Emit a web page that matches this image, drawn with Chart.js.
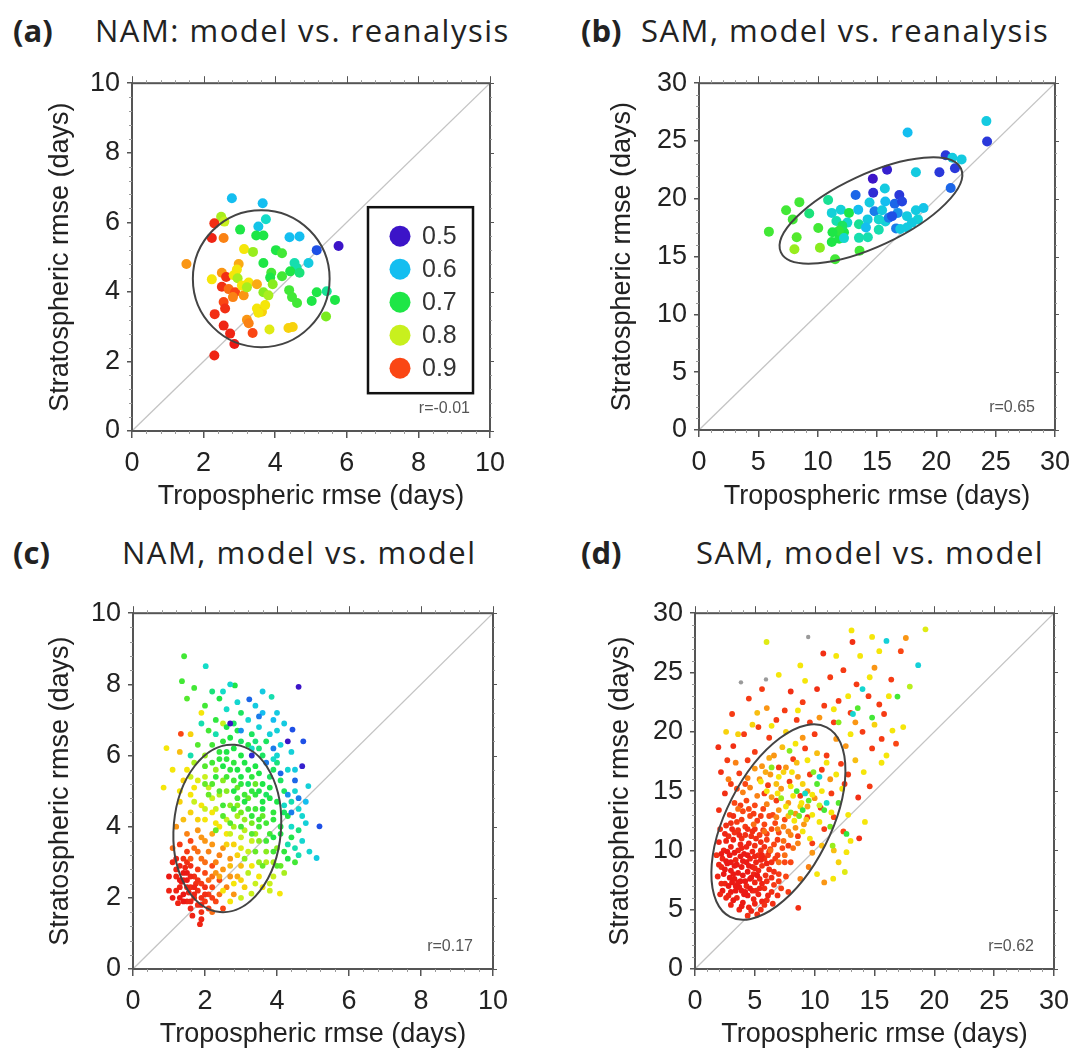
<!DOCTYPE html>
<html>
<head>
<meta charset="utf-8">
<script src="https://cdn.jsdelivr.net/npm/chart.js@4.4.1/dist/chart.umd.min.js"></script>
<style>
  html, body { margin: 0; padding: 0; background: #fff; overflow: hidden; }
  body { width: 1079px; height: 1053px; position: relative; }
  canvas { position: absolute; }
  .ptitle { position: absolute; font-family: "Open Sans", sans-serif; font-size: 31px; line-height: 31px; color: #222; white-space: nowrap; letter-spacing: 1.5px; }
  .ptitle.tag { font-weight: bold; letter-spacing: 0; }
</style>
</head>
<body>
<div class="ptitle tag" style="left:13px;top:15px">(a)</div>
<div class="ptitle" style="left:95px;top:15px">NAM: model vs. reanalysis</div>
<div class="ptitle tag" style="left:581px;top:15px">(b)</div>
<div class="ptitle" style="left:641px;top:15px">SAM, model vs. reanalysis</div>
<div class="ptitle tag" style="left:13px;top:537px">(c)</div>
<div class="ptitle" style="left:122px;top:537px">NAM, model vs. model</div>
<div class="ptitle tag" style="left:581px;top:537px">(d)</div>
<div class="ptitle" style="left:696px;top:537px">SAM, model vs. model</div>

<canvas id="pa" width="540" height="470" style="left:0px;top:60px"></canvas>
<canvas id="pb" width="519" height="470" style="left:560px;top:60px"></canvas>
<canvas id="pc" width="540" height="478" style="left:0px;top:590px"></canvas>
<canvas id="pd" width="519" height="478" style="left:560px;top:590px"></canvas>

<script>
// each point: [tropospheric rmse, stratospheric rmse, correlation]
const namReanPts = [
  [2.79,6.69,.6],[3.65,6.55,.6],[2.49,6.16,.78],[2.58,6.02,.8],[2.30,5.97,.92],[2.23,5.55,.93],[2.56,5.55,.87],
  [3.02,5.79,.7],[3.74,6.09,.65],[3.53,5.88,.61],[3.47,5.62,.7],[3.67,5.62,.7],[4.40,5.57,.6],[4.68,5.59,.6],
  [5.16,5.20,.55],[5.77,5.32,.5],[1.52,4.80,.86],[3.13,5.23,.82],[3.38,5.15,.77],[4.02,5.20,.7],[4.19,5.11,.72],
  [3.67,4.83,.7],[4.54,4.83,.66],[4.93,4.83,.62],[4.60,4.69,.66],[2.98,4.80,.85],[2.93,4.64,.82],[2.51,4.55,.86],
  [2.23,4.36,.82],[2.63,4.43,.92],[2.84,4.48,.82],[2.95,4.39,.78],[3.26,4.27,.82],[3.49,4.22,.85],[3.89,4.55,.72],
  [4.19,4.45,.72],[3.86,4.41,.7],[4.42,4.59,.7],[4.68,4.55,.68],[2.51,4.15,.92],[2.70,4.08,.88],[2.88,3.99,.9],
  [3.12,3.90,.86],[3.67,3.99,.76],[3.81,3.90,.78],[4.39,4.05,.72],[4.61,3.68,.72],[4.47,3.85,.72],[2.82,3.85,.87],
  [2.56,3.71,.9],[2.60,3.52,.92],[2.31,3.36,.92],[3.49,3.52,.82],[3.63,3.43,.83],[3.53,3.40,.82],[3.72,3.62,.82],
  [5.02,3.74,.7],[5.16,3.99,.7],[5.44,4.02,.67],[5.67,3.77,.7],[5.42,3.29,.75],[3.21,3.20,.86],[3.26,3.10,.87],
  [2.56,3.03,.93],[2.74,2.80,.93],[2.86,2.50,.94],[3.37,2.82,.9],[3.84,2.92,.81],[4.37,2.96,.83],[4.49,2.99,.83],
  [2.30,2.17,.93],[3.07,4.18,.82],[3.21,4.13,.78],[3.93,4.22,.76]
];

const samReanPts = [
  [5.89,17.16,.72],[7.34,19.01,.72],[8.46,19.71,.72],[7.90,18.22,.72],[8.23,16.68,.73],[8.04,15.64,.77],
  [9.29,18.73,.68],[10.19,15.76,.76],[10.05,17.47,.72],[10.88,19.90,.67],[11.19,18.78,.63],[11.95,19.06,.63],
  [11.58,18.08,.66],[11.19,16.26,.7],[11.81,16.54,.7],[12.22,17.10,.7],[12.64,18.78,.7],[12.50,17.94,.64],
  [11.47,14.77,.72],[13.20,20.33,.56],[13.42,19.06,.6],[13.48,17.80,.67],[13.48,16.62,.66],[14.23,16.68,.66],
  [13.53,15.50,.72],[14.65,21.73,.5],[14.68,20.52,.52],[15.85,22.51,.51],[15.66,20.89,.62],[14.79,18.92,.57],
  [14.37,19.68,.62],[15.43,19.01,.62],[15.71,18.03,.63],[15.15,17.33,.66],[16.49,19.57,.56],[16.88,20.33,.53],
  [17.11,19.76,.54],[16.75,18.78,.58],[16.61,17.44,.57],[17.53,18.50,.62],[18.28,19.01,.62],[18.92,19.20,.61],
  [18.45,18.22,.63],[17.53,17.52,.62],[17.58,25.74,.6],[18.28,22.29,.62],[20.26,22.29,.53],[20.79,23.77,.53],
  [21.35,23.55,.62],[22.13,23.41,.62],[21.57,22.65,.53],[21.21,20.94,.56],[24.22,26.72,.62],[24.28,24.95,.53],
  [15.99,18.36,.57],[14.21,18.22,.62],[15.15,18.22,.64],[14.07,17.52,.6],[12.08,17.66,.69],[11.8,17.24,.71],
  [12.22,16.6,.64],[16.27,18.5,.55],[16.96,17.38,.62],[17.95,17.94,.62],[11.25,17.1,.7],[15.7,19.76,.6]
];

const namModelPts = [
  // red
  [1.3,2.9,.93],[1.4,2.7,.94],[1.2,2.6,.93],[1.5,2.5,.94],[1.3,2.3,.93],[1.6,2.3,.92],[1.4,2.1,.94],[1.2,2.2,.93],
  [1.7,2.0,.92],[1.5,1.9,.93],[1.8,1.8,.92],[1.6,1.7,.93],[1.9,1.6,.92],[2.0,1.9,.91],[1.8,2.2,.92],[2.1,2.1,.91],
  [1.7,2.6,.92],[1.9,2.4,.91],[2.2,2.3,.9],[2.0,2.7,.9],[1.6,2.9,.92],[1.8,2.8,.91],[1.4,3.1,.92],[1.2,3.1,.93],
  [1.5,3.3,.91],[2.3,1.9,.9],[2.1,1.7,.91],[1.9,1.4,.93],[1.86,1.26,.93],[1.1,2.0,.94],[1.0,2.2,.93],[1.35,2.45,.94],
  [1.55,2.15,.93],[1.75,2.4,.92],[1.45,2.85,.93],[2.4,2.5,.9],[2.2,2.9,.9],[1.3,3.5,.91],[1.6,3.6,.9],[1.25,1.85,.93],
  [2.5,1.7,.9],[1.65,1.5,.93],[1.5,2.7,.94],[1.7,2.3,.93],[2.0,2.3,.92],[1.4,2.5,.94],[1.9,2.0,.92],[1.6,1.9,.93],
  [1.3,2.5,.94],[1.5,2.3,.93],[1.7,2.1,.93],[1.4,1.9,.94],[1.6,2.6,.93],[1.8,2.5,.92],[2.0,2.1,.92],[1.2,2.8,.93],
  [1.5,3.0,.92],[1.9,1.8,.93],[2.2,2.0,.91],[1.3,2.0,.94],[1.0,2.6,.94],[1.1,3.0,.93],
  // orange
  [1.5,3.8,.87],[1.7,3.4,.88],[1.9,3.1,.88],[2.1,3.3,.87],[2.3,3.0,.87],[2.5,2.8,.86],[2.6,2.3,.87],[2.8,2.1,.86],
  [2.4,2.1,.88],[2.0,3.6,.86],[1.8,3.9,.86],[1.4,4.2,.84],[1.6,4.4,.83],[2.2,3.8,.85],[2.5,3.4,.86],[2.7,3.1,.86],
  [2.9,2.6,.85],[3.0,2.9,.84],[2.3,4.1,.82],[1.9,4.6,.82],[2.6,3.8,.82],[1.2,4.0,.86],[1.3,4.7,.83],[2.1,2.5,.88],
  [2.7,2.6,.86],[1.7,5.1,.82],[2.0,5.4,.8],[1.5,5.6,.82],[1.3,6.1,.84],[1.33,6.61,.9],[2.2,1.6,.88],[3.1,2.3,.83],
  [2.8,3.5,.83],[1.1,3.4,.88],[1.8,3.3,.88],[2.0,3.0,.88],[2.4,3.2,.87],[1.6,3.1,.89],[2.2,3.5,.86],[1.9,3.7,.86],
  [2.2,2.6,.88],[2.4,2.6,.85],[2.7,2.9,.84],[2.9,3.2,.83],[2.3,2.7,.86],[1.8,4.2,.83],
  // yellow
  [2.0,4.2,.82],[2.3,4.5,.8],[2.6,4.2,.8],[2.8,4.0,.78],[3.0,3.7,.8],[3.2,3.3,.8],[3.3,2.9,.82],[3.5,2.6,.82],
  [3.29,2.12,.8],[4.08,2.12,.82],[3.6,2.3,.82],[2.9,4.6,.76],[2.4,4.9,.78],[2.1,5.1,.8],[1.8,5.3,.81],[2.6,5.0,.76],
  [3.4,3.8,.77],[3.7,3.0,.79],[3.1,4.2,.77],[1.6,4.9,.82],[0.93,6.21,.82],[0.85,5.1,.82],[1.1,5.6,.82],[1.6,6.6,.83],
  [1.9,7.2,.82],[2.5,6.9,.8],[3.9,2.6,.8],[2.2,4.8,.8],[3.0,2.5,.83],[3.8,2.4,.8],[1.4,5.3,.83],
  [2.4,4.0,.82],[2.7,3.8,.8],[3.0,3.4,.81],[2.6,3.5,.83],[3.3,3.6,.8],[2.2,4.4,.82],[2.9,4.3,.78],[3.1,3.9,.79],
  [2.5,2.2,.82],[2.8,2.4,.82],[3.0,2.0,.8],[2.7,1.9,.82],[3.8,2.2,.8],[3.4,2.4,.8],[3.2,2.7,.79],
  [1.7,4.7,.8],[2.0,4.5,.8],[1.6,5.4,.8],[1.3,5.0,.82],
  // yellow-green
  [2.7,4.6,.76],[3.0,4.4,.75],[3.3,4.1,.75],[3.5,3.6,.76],[3.7,3.3,.76],[3.9,3.0,.78],[2.5,5.3,.76],[2.9,5.1,.74],
  [3.2,4.8,.74],[3.6,4.3,.74],[4.0,3.4,.76],[2.3,5.6,.77],[4.2,2.7,.78],[1.7,5.8,.78],[2.0,6.0,.77],[3.4,5.2,.74],
  [3.5,3.0,.77],[4.1,2.9,.74],
  // green
  [2.4,5.9,.71],[2.7,5.6,.71],[3.0,5.4,.7],[3.3,5.0,.71],[3.6,4.7,.7],[3.9,4.4,.71],[4.1,4.0,.7],[3.8,3.8,.72],
  [3.4,4.5,.72],[3.1,5.8,.7],[2.8,6.2,.7],[2.5,6.4,.71],[3.5,5.5,.7],[3.8,5.1,.7],[4.0,4.7,.7],[2.2,6.3,.72],
  [2.0,5.7,.73],[3.2,6.3,.7],[3.6,6.0,.69],[2.9,6.7,.7],[2.6,6.8,.7],[2.3,7.0,.71],[3.0,7.2,.69],[1.8,6.3,.73],
  [2.1,6.7,.72],[4.3,4.3,.7],[4.2,5.0,.69],[3.7,4.1,.72],[3.1,4.9,.72],[2.8,5.3,.72],[2.6,5.9,.71],[3.4,5.7,.7],
  [3.3,6.6,.69],[2.0,7.4,.72],[1.42,8.79,.72],[1.36,8.09,.72],[2.83,7.97,.7],[1.5,7.6,.73],[1.7,7.9,.72],[2.4,7.6,.7],
  [4.4,3.7,.7],[4.2,3.3,.71],[4.5,3.0,.72],[3.9,5.6,.69],[4.1,5.3,.69],[2.2,5.2,.73],[3.5,4.2,.72],[3.0,6.0,.7],
  [2.7,6.5,.7],[3.7,6.4,.69],[2.9,4.8,.72],[3.2,4.5,.72],[3.4,4.9,.71],[2.6,5.4,.72],[3.0,5.2,.71],[3.6,5.2,.7],
  [2.4,5.0,.73],[3.8,4.8,.7],[3.3,5.4,.71],[2.8,5.8,.71],
  [2.3,3.9,.74],[2.5,4.3,.73],[2.8,4.5,.72],[3.1,4.7,.7],[3.3,4.3,.71],[3.6,4.5,.7],[3.9,4.2,.71],[4.1,3.8,.7],
  [3.7,3.6,.72],[3.4,3.3,.74],[3.1,3.1,.76],[3.6,2.9,.74],[3.9,3.3,.72],[4.0,2.9,.73],[2.5,5.7,.7],[2.8,5.0,.7],
  [3.2,5.2,.69],[3.5,5.0,.7],[3.8,5.4,.69],[4.0,5.8,.68],[2.3,5.4,.71],[2.6,6.1,.7],[2.9,5.6,.7],[3.2,5.6,.7],
  [3.5,6.2,.68],[3.0,6.4,.69],[2.4,6.1,.71],[2.2,5.8,.72],[2.7,4.1,.73],[3.0,4.0,.72],[3.3,3.8,.73],[3.5,4.0,.72],
  [2.5,4.6,.72],[2.1,4.9,.74],[2.0,5.2,.74],[3.7,4.9,.69],[4.2,4.4,.69],[3.9,3.7,.7],[3.4,6.4,.68],[2.8,6.9,.69],
  [4.3,3.1,.7],[4.6,3.9,.68],[2.2,7.8,.68],
  // teal / cyan
  [2.02,8.51,.65],[2.6,7.3,.65],[2.9,7.5,.64],[3.2,7.0,.64],[3.5,6.8,.63],[3.8,6.6,.63],[4.1,6.3,.63],[3.4,7.4,.62],
  [3.85,7.65,.66],[4.0,7.2,.62],[2.3,6.6,.66],[3.9,5.9,.65],[4.3,5.6,.64],[4.5,5.0,.64],[4.87,5.14,.63],[4.6,4.5,.64],
  [4.4,4.0,.65],[4.7,3.6,.64],[4.9,3.3,.64],[5.10,3.12,.62],[4.6,3.2,.66],[4.8,4.1,.63],[4.3,3.5,.66],[3.6,7.8,.62],
  [2.7,8.0,.64],[1.9,6.9,.66],[4.2,6.9,.62],[3.3,6.2,.65],[4.0,6.0,.64],[2.5,7.8,.65],[4.4,6.1,.63],[4.5,5.6,.62],
  [1.6,6.0,.66],[4.2,4.6,.65],[4.5,3.4,.66],[4.7,4.3,.64],[4.4,4.7,.66],[4.8,4.7,.6],[4.0,6.7,.63],[3.6,7.2,.6],
  [3.9,7.0,.6],
  // blue / purple
  [3.23,7.58,.56],[3.5,7.1,.57],[3.0,6.7,.58],[3.7,5.8,.57],[4.1,5.5,.56],[4.43,6.73,.55],[4.73,6.40,.55],
  [4.5,5.3,.56],[4.6,4.8,.57],[5.18,4.01,.55],[4.3,4.9,.58],[3.9,6.2,.57],[4.4,4.4,.57],
  [2.7,6.9,.5],[4.6,7.93,.5],[4.3,6.4,.5],[4.7,5.7,.51],[3.3,6.0,.52]
];

const samModelPts = [
  // red core
  [2.5,7.2,.93],[3.0,6.5,.94],[3.5,6.0,.93],[4.0,5.6,.94],[4.5,5.2,.93],[5.0,5.5,.93],[5.5,5.0,.92],[6.0,5.8,.92],
  [3.2,8.0,.94],[3.8,7.4,.94],[4.3,7.0,.93],[4.8,6.6,.93],[5.3,6.3,.93],[5.8,6.8,.92],[6.4,6.5,.92],[2.2,8.6,.93],
  [2.7,8.9,.94],[3.4,9.2,.93],[3.9,8.6,.94],[4.4,8.2,.94],[4.9,8.0,.93],[5.4,7.6,.93],[6.0,7.4,.92],[6.6,7.1,.91],
  [2.4,10.0,.93],[3.0,10.3,.93],[3.6,10.0,.93],[4.1,9.7,.94],[4.6,9.3,.93],[5.1,9.0,.93],[5.6,8.7,.92],[6.2,8.4,.92],
  [7.0,8.0,.91],[2.8,11.2,.92],[3.3,11.5,.92],[3.9,11.0,.92],[4.5,10.6,.93],[5.0,10.4,.92],[5.5,10.0,.92],[6.1,9.6,.91],
  [6.7,9.3,.91],[2.1,11.8,.92],[3.5,12.4,.91],[4.2,12.0,.91],[4.8,11.6,.92],[5.4,11.3,.91],[6.0,10.9,.91],[6.6,10.5,.9],
  [7.3,10.2,.9],[2.9,13.0,.91],[4.0,13.3,.9],[4.6,12.9,.9],[5.2,12.5,.91],[5.8,12.2,.9],[6.4,11.8,.9],[7.0,11.5,.9],
  [3.3,14.0,.9],[4.3,14.2,.9],[5.0,13.8,.9],[5.7,13.5,.9],[6.5,13.0,.9],[7.5,12.6,.9],[2.3,9.3,.93],[1.9,7.8,.93],
  [2.0,10.7,.93],[3.7,5.0,.93],[4.4,4.5,.92],[5.2,4.6,.92],[6.5,5.5,.92],[7.2,6.8,.91],[7.6,7.8,.9],[8.0,9.0,.9],
  [8.63,5.16,.92],[2.6,6.0,.93],[3.1,7.3,.94],[4.1,6.3,.94],[5.6,5.7,.93],[4.7,7.7,.94],[3.6,8.1,.94],[2.6,12.1,.92],
  [2.9,7.7,.94],[3.4,7.0,.94],[3.9,6.6,.94],[4.4,6.2,.94],[4.9,5.9,.93],[5.4,6.8,.93],[5.9,7.9,.92],[6.4,7.7,.92],
  [2.4,8.0,.94],[2.9,9.6,.94],[3.3,8.7,.94],[3.8,9.5,.94],[4.3,9.0,.94],[4.8,8.6,.93],[5.3,8.3,.93],[5.8,9.3,.92],
  [6.4,9.0,.92],[2.6,10.8,.93],[3.2,10.9,.93],[3.8,10.5,.93],[4.3,10.3,.93],[4.8,9.9,.93],[5.3,9.6,.92],[5.8,10.3,.92],
  [6.3,10.1,.91],[3.6,11.7,.92],[4.2,11.3,.92],[5.1,11.0,.92],[5.7,11.7,.91],[4.5,13.5,.9],[3.0,12.3,.92],[3.4,6.6,.94],
  [4.0,7.9,.94],[5.0,7.3,.93],[6.9,9.6,.91],[2.2,7.2,.93],[4.7,11.2,.92],[3.9,12.6,.91],[2.6,9.1,.94],[6.2,12.9,.9],
  [2.3,6.6,.94],[2.8,7.0,.94],[3.3,7.6,.94],[3.7,6.9,.94],[4.2,7.4,.94],[4.6,6.8,.94],[5.1,6.6,.93],[5.6,7.2,.93],
  [6.1,6.2,.93],[2.5,8.4,.94],[3.0,8.3,.94],[3.5,8.8,.94],[4.0,9.1,.94],[4.5,8.7,.94],[5.0,8.5,.93],[5.5,9.2,.93],
  [6.0,8.9,.93],[6.6,8.2,.92],[2.2,9.7,.94],[2.7,9.9,.94],[3.3,9.8,.94],[3.9,10.2,.93],[4.4,9.6,.94],[5.0,9.5,.93],
  [5.6,9.6,.93],[6.2,9.9,.92],[2.5,11.4,.93],[3.1,11.8,.93],[3.7,11.3,.93],[4.4,11.8,.92],[5.0,11.8,.92],[5.5,10.7,.92],
  [6.0,11.4,.91],[6.9,10.9,.91],[3.2,12.9,.92],[3.8,13.8,.91],[4.9,13.1,.91],[5.5,12.9,.91],[3.9,5.3,.94],[4.7,4.9,.93],
  [5.8,5.4,.92],[3.2,5.8,.94],[2.8,6.2,.93],[7.0,7.4,.91],[7.5,9.0,.9],[4.2,6.5,.95],[3.6,7.3,.95],[4.6,7.6,.95],
  [3.0,9.0,.95],[5.2,7.9,.94],[3.0,5.4,.93],[2.0,8.8,.93],[1.8,9.6,.92],[2.1,6.3,.93],[6.9,6.2,.92],[7.8,6.5,.91],
  [6.7,12.3,.9],
  // red, scattered
  [1.95,18.7,.92],[2.17,16.6,.92],[2.5,14.8,.92],[2.0,13.4,.92],[3.0,15.6,.91],[3.7,16.5,.91],[4.4,17.6,.91],
  [5.0,18.3,.91],[3.2,18.8,.92],[4.1,19.8,.91],[5.3,20.4,.91],[6.2,19.5,.91],[6.8,21.0,.91],[7.5,21.8,.91],
  [8.5,21.0,.91],[9.0,22.5,.91],[8.0,23.4,.92],[10.2,23.6,.92],[10.72,26.6,.92],[13.16,27.57,.92],[11.3,24.6,.91],
  [12.4,25.2,.91],[13.5,24.0,.91],[14.5,23.0,.91],[15.4,22.3,.91],[13.0,21.6,.91],[11.6,20.8,.91],[10.0,19.8,.91],
  [9.2,18.6,.91],[11.0,18.0,.91],[12.2,17.3,.91],[13.64,14.46,.92],[13.72,11.02,.92],[12.5,15.6,.91],[11.4,14.8,.91],
  [10.5,13.6,.91],[9.4,12.8,.91],[8.8,14.6,.91],[7.9,15.8,.91],[7.0,17.0,.91],[6.1,15.5,.91],[8.2,17.7,.91],
  [9.6,16.4,.91],[10.6,16.8,.91],[14.8,18.6,.91],[15.8,21.5,.91],[16.4,24.4,.91],[12.0,22.6,.91],[8.6,11.2,.91],
  [9.8,10.6,.91],[10.8,11.8,.91],[7.8,10.4,.91],[5.8,14.8,.91],[6.8,14.2,.91],[14.0,20.0,.91],
  [3.5,15.2,.9],[4.2,15.6,.9],[2.7,17.6,.91],[3.1,21.5,.91],[4.5,22.8,.91],[5.6,23.6,.91],[9.6,20.8,.91],
  [10.8,22.2,.91],[12.8,16.4,.91],[11.6,12.8,.9],[12.4,11.6,.9],[14.6,15.4,.91],[15.6,19.4,.91],[16.8,19.0,.9],
  [17.2,26.8,.9],
  // orange
  [5.2,14.6,.87],[6.0,13.9,.87],[6.8,12.8,.87],[7.4,12.0,.87],[8.0,11.3,.87],[8.6,10.6,.87],[4.6,15.3,.87],
  [5.4,16.0,.86],[6.3,16.4,.86],[7.2,15.2,.86],[7.8,14.0,.86],[8.4,13.1,.86],[9.1,12.2,.86],[4.0,14.9,.87],
  [3.6,13.5,.88],[5.6,17.1,.86],[6.6,18.0,.86],[7.6,17.0,.86],[8.6,16.2,.86],[9.4,15.0,.86],[10.0,14.4,.86],
  [9.0,19.5,.86],[10.4,21.2,.86],[11.8,19.4,.86],[12.6,18.8,.86],[13.4,20.8,.86],[7.0,9.0,.88],[6.3,10.0,.88],
  [7.5,9.6,.88],[9.5,8.6,.87],[8.8,7.6,.87],[3.4,17.4,.87],[2.8,16.0,.87],[11.3,16.0,.86],[10.8,7.3,.86],
  [9.8,9.8,.86],[17.62,27.91,.86],[15.0,25.4,.86],[6.0,22.0,.86],[5.8,11.6,.88],[4.9,12.2,.88],
  [6.4,14.5,.86],[7.0,13.4,.86],[7.8,12.9,.84],[8.8,13.7,.83],[9.3,12.6,.84],[5.9,16.6,.85],[6.8,15.6,.84],
  [7.4,16.6,.83],[5.0,16.9,.86],[4.4,16.1,.87],[6.2,17.8,.85],[7.3,18.7,.84],[8.5,17.4,.84],[6.9,11.8,.87],
  [7.8,11.6,.87],[8.4,11.9,.86],[9.4,13.7,.85],[7.4,10.8,.88],[8.2,10.2,.88],[10.2,18.2,.84],
  [11.6,10.0,.84],[10.6,10.4,.84],[13.4,17.6,.84],[5.2,21.6,.84],
  // yellow
  [6.0,15.0,.82],[6.9,14.8,.82],[7.6,13.7,.82],[8.3,12.5,.82],[9.0,11.6,.82],[9.6,11.0,.82],[5.5,15.8,.82],
  [7.0,16.2,.82],[8.0,15.4,.82],[8.9,14.0,.82],[9.8,13.0,.82],[10.4,12.4,.82],[10.6,15.0,.82],[11.4,13.2,.82],
  [11.0,17.4,.82],[9.4,17.6,.82],[8.4,19.0,.82],[12.66,9.85,.82],[11.55,7.62,.82],[12.52,8.18,.81],[10.2,8.0,.82],
  [16.5,20.1,.82],[15.59,17.39,.82],[17.95,23.81,.79],[13.08,28.55,.82],[5.98,27.57,.81],[13.8,26.4,.82],
  [12.8,23.0,.82],[14.6,24.6,.82],[4.8,20.6,.83],[3.6,19.8,.83],[7.0,24.8,.82],[9.2,24.3,.82],[16.2,23.0,.82],
  [2.6,20.0,.83],[8.6,21.8,.82],[6.4,20.5,.82],[11.6,21.9,.82],[14.1,16.6,.82],[12.8,13.0,.82],[19.26,28.64,.81],
  [15.4,26.8,.82],[13.0,19.8,.82],[8.2,14.6,.82],[8.1,16.6,.82],[9.0,15.6,.83],[9.8,14.7,.82],[10.4,13.8,.8],
  [11.8,16.4,.82],[12.3,15.2,.82],[13.0,10.8,.82],[12.0,9.0,.83],[14.2,12.4,.82],[15.0,20.6,.83],[16.0,18.0,.82],
  [17.4,20.4,.82],[7.6,20.0,.83],[8.8,25.6,.82],[11.8,26.4,.82],[14.8,28.0,.82],
  // yellow-green / green
  [7.2,14.4,.77],[8.0,13.2,.76],[8.7,12.9,.75],[9.5,14.2,.74],[10.2,15.6,.73],[9.9,16.6,.76],[11.3,12.0,.75],
  [12.0,14.0,.73],[10.8,13.4,.72],[7.9,18.4,.76],[12.66,11.39,.71],[16.92,22.97,.72],[13.6,22.0,.73],
  [14.8,21.2,.72],[12.0,20.8,.76],[8.5,15.0,.72],[9.0,13.4,.71],[6.4,17.0,.76],[11.5,10.4,.77],
  // cyan
  [16.0,27.66,.63],[18.65,25.62,.63],[10.4,16.2,.64],[13.2,21.5,.64],[11.0,14.0,.65],[14.0,23.6,.64],[9.2,14.8,.65]
];
// uncoloured stray models (grey), including two plotted just above the frame
const samModelGrey = [[9.46,27.99],[3.84,24.17],[5.93,24.42],[16.6,31.8],[18.2,32.0]];

// fitted ellipses: [centre x, centre y, semi-axis 1, semi-axis 2, tilt in degrees]
const namReanEllipse  = [3.61, 4.38, 1.91, 1.97, 0];
const samReanEllipse  = [14.49, 18.99, 8.37, 3.12, 25];
const namModelEllipse = [2.62, 3.95, 1.49, 2.36, -5];
const samModelEllipse = [6.97, 12.39, 8.89, 4.40, 63];

const rValues = ['-0.01', '0.65', '0.17', '0.62'];
const legendValues = [0.5, 0.6, 0.7, 0.8, 0.9];
const namRange = [0, 10];
const samRange = [0, 30];

// jet-like colour scale for the correlation
const corrStops = [0.50, 0.55, 0.60, 0.65, 0.70, 0.75, 0.80, 0.82, 0.85, 0.88, 0.90, 0.94];
const corrRGB = [[60,20,200],[30,80,230],[20,190,240],[20,220,200],[30,230,70],[120,235,30],
                 [200,240,30],[245,230,10],[250,170,20],[250,110,20],[250,70,20],[235,25,20]];

function corrColor(v) {
  if (v <= corrStops[0]) return 'rgb(' + corrRGB[0].join(',') + ')';
  for (let i = 0; i < corrStops.length - 1; i++) {
    if (v <= corrStops[i + 1]) {
      const t = (v - corrStops[i]) / (corrStops[i + 1] - corrStops[i]);
      const c = corrRGB[i].map((a, k) => Math.round(a + (corrRGB[i + 1][k] - a) * t));
      return 'rgb(' + c.join(',') + ')';
    }
  }
  return 'rgb(' + corrRGB[corrRGB.length - 1].join(',') + ')';
}

const FONT = '"Liberation Sans", Arial, sans-serif';

// box, minor ticks, fitted ellipse, r value and (panel a) the colour key
const framePlugin = {
  id: 'frame',
  afterDatasetsDraw(chart, args, o) {
    const { ctx, chartArea: a } = chart;
    const x = chart.scales.x, y = chart.scales.y;
    ctx.save();

    // ellipse
    const [cx, cy, r1, r2, tilt] = o.ellipse;
    const ppx = Math.abs(x.getPixelForValue(1) - x.getPixelForValue(0));
    const ppy = Math.abs(y.getPixelForValue(1) - y.getPixelForValue(0));
    ctx.beginPath();
    ctx.ellipse(x.getPixelForValue(cx), y.getPixelForValue(cy), r1 * ppx, r2 * ppy,
                -tilt * Math.PI / 180, 0, Math.PI * 2);
    ctx.strokeStyle = '#444';
    ctx.lineWidth = 2;
    ctx.stroke();

    // frame
    ctx.strokeStyle = '#555';
    ctx.lineWidth = 2;
    ctx.strokeRect(a.left, a.top, a.right - a.left, a.bottom - a.top);

    // minor ticks + mirrored ticks on top and right
    ctx.lineWidth = 1;
    const n = Math.round(o.max / o.minor);
    const every = Math.round(o.major / o.minor);
    for (let i = 0; i <= n; i++) {
      const v = i * o.minor;
      const big = i % every === 0;
      const px = Math.round(x.getPixelForValue(v)) + 0.5;
      const py = Math.round(y.getPixelForValue(v)) + 0.5;
      ctx.strokeStyle = big ? '#555' : '#999';
      ctx.beginPath();
      ctx.moveTo(px, a.top); ctx.lineTo(px, a.top - (big ? 7 : 3));
      ctx.moveTo(a.right, py); ctx.lineTo(a.right + (big ? 4 : 2), py);
      if (!big) {
        ctx.moveTo(px, a.bottom); ctx.lineTo(px, a.bottom + 3);
        ctx.moveTo(a.left, py); ctx.lineTo(a.left - 3, py);
      }
      ctx.stroke();
    }

    // correlation
    ctx.fillStyle = '#555';
    ctx.font = '16px ' + FONT;
    ctx.textAlign = 'right';
    ctx.textBaseline = 'middle';
    ctx.fillText('r=' + o.r, a.right - 20, a.bottom - 22);

    // colour key
    if (o.legend) {
      const bx = a.left + 236, by = a.top + 124, bw = 105, bh = 186;
      ctx.strokeStyle = '#111';
      ctx.lineWidth = 2.5;
      ctx.strokeRect(bx, by, bw, bh);
      ctx.font = '25px ' + FONT;
      ctx.textAlign = 'left';
      legendValues.forEach((v, i) => {
        const ry = by + 29 + i * 33;
        ctx.beginPath();
        ctx.arc(bx + 32, ry, 10.5, 0, Math.PI * 2);
        ctx.fillStyle = corrColor(v);
        ctx.fill();
        ctx.fillStyle = '#333';
        ctx.fillText(v.toFixed(1), bx + 54, ry + 1);
      });
    }
    ctx.restore();
  }
};

function makePanel(id, p) {
  const datasets = [
    {
      data: p.pts.map(q => ({ x: q[0], y: q[1] })),
      backgroundColor: p.pts.map(q => corrColor(q[2])),
      pointRadius: p.radius,
      borderWidth: 0,
      order: 1
    },
    {
      data: p.range.map(v => ({ x: v, y: v })),
      showLine: true,
      borderColor: '#c4c4c4',
      borderWidth: 1.3,
      pointRadius: 0,
      order: 3
    }
  ];
  if (p.grey) {
    datasets.push({
      data: p.grey.map(q => ({ x: q[0], y: q[1] })),
      backgroundColor: '#9a9a9a',
      pointRadius: 2.2,
      borderWidth: 0,
      clip: false,
      order: 2
    });
  }
  const tickFont = { family: FONT, size: 27 };
  const titleFont = { family: FONT, size: 27 };
  new Chart(document.getElementById(id), {
    type: 'scatter',
    data: { datasets },
    plugins: [framePlugin],
    options: {
      responsive: false,
      animation: false,
      events: [],
      layout: { padding: { top: p.padTop, right: p.padRight, left: 0, bottom: 0 } },
      plugins: {
        legend: { display: false },
        tooltip: { enabled: false },
        frame: { ellipse: p.ellipse, r: p.r, max: p.range[1], major: p.step, minor: p.minor, legend: p.legend }
      },
      scales: {
        x: {
          type: 'linear', min: p.range[0], max: p.range[1],
          ticks: { stepSize: p.step, font: tickFont, color: '#222', padding: 9, maxRotation: 0, autoSkip: false },
          grid: { drawOnChartArea: false, tickLength: 7, color: '#555', lineWidth: 1.5 },
          border: { display: false },
          title: { display: true, text: 'Tropospheric rmse (days)', font: titleFont, color: '#222',
                   padding: { top: 0, bottom: p.xTitlePad } },
          afterFit(s) { s.height = p.xH; }
        },
        y: {
          type: 'linear', min: p.range[0], max: p.range[1],
          ticks: { stepSize: p.step, font: tickFont, color: '#222', padding: 7, autoSkip: false },
          grid: { drawOnChartArea: false, tickLength: 5, color: '#555', lineWidth: 1.5 },
          border: { display: false },
          title: { display: true, text: 'Stratospheric rmse (days)', font: titleFont, color: '#222',
                   padding: { top: p.yTitlePad, bottom: 0 } },
          afterFit(s) { s.width = p.yW; }
        }
      }
    }
  });
}

makePanel('pa', { pts: namReanPts, range: namRange, step: 2, minor: 0.4, ellipse: namReanEllipse, r: rValues[0],
  radius: 5, legend: true, yW: 132, padTop: 13, padRight: 50, xH: 99, yTitlePad: 44, xTitlePad: 17 });
makePanel('pb', { pts: samReanPts, range: samRange, step: 5, minor: 1, ellipse: samReanEllipse, r: rValues[1],
  radius: 5, yW: 139, padTop: 13, padRight: 22, xH: 100, yTitlePad: 46, xTitlePad: 17 });
makePanel('pc', { pts: namModelPts, range: namRange, step: 2, minor: 0.4, ellipse: namModelEllipse, r: rValues[2],
  radius: 2.9, yW: 133, padTop: 21, padRight: 47, xH: 99, yTitlePad: 44, xTitlePad: 17 });
makePanel('pd', { pts: samModelPts, grey: samModelGrey, range: samRange, step: 5, minor: 1, ellipse: samModelEllipse,
  r: rValues[3], radius: 2.9, yW: 135, padTop: 21, padRight: 25, xH: 99, yTitlePad: 44, xTitlePad: 17 });
</script>
</body>
</html>
